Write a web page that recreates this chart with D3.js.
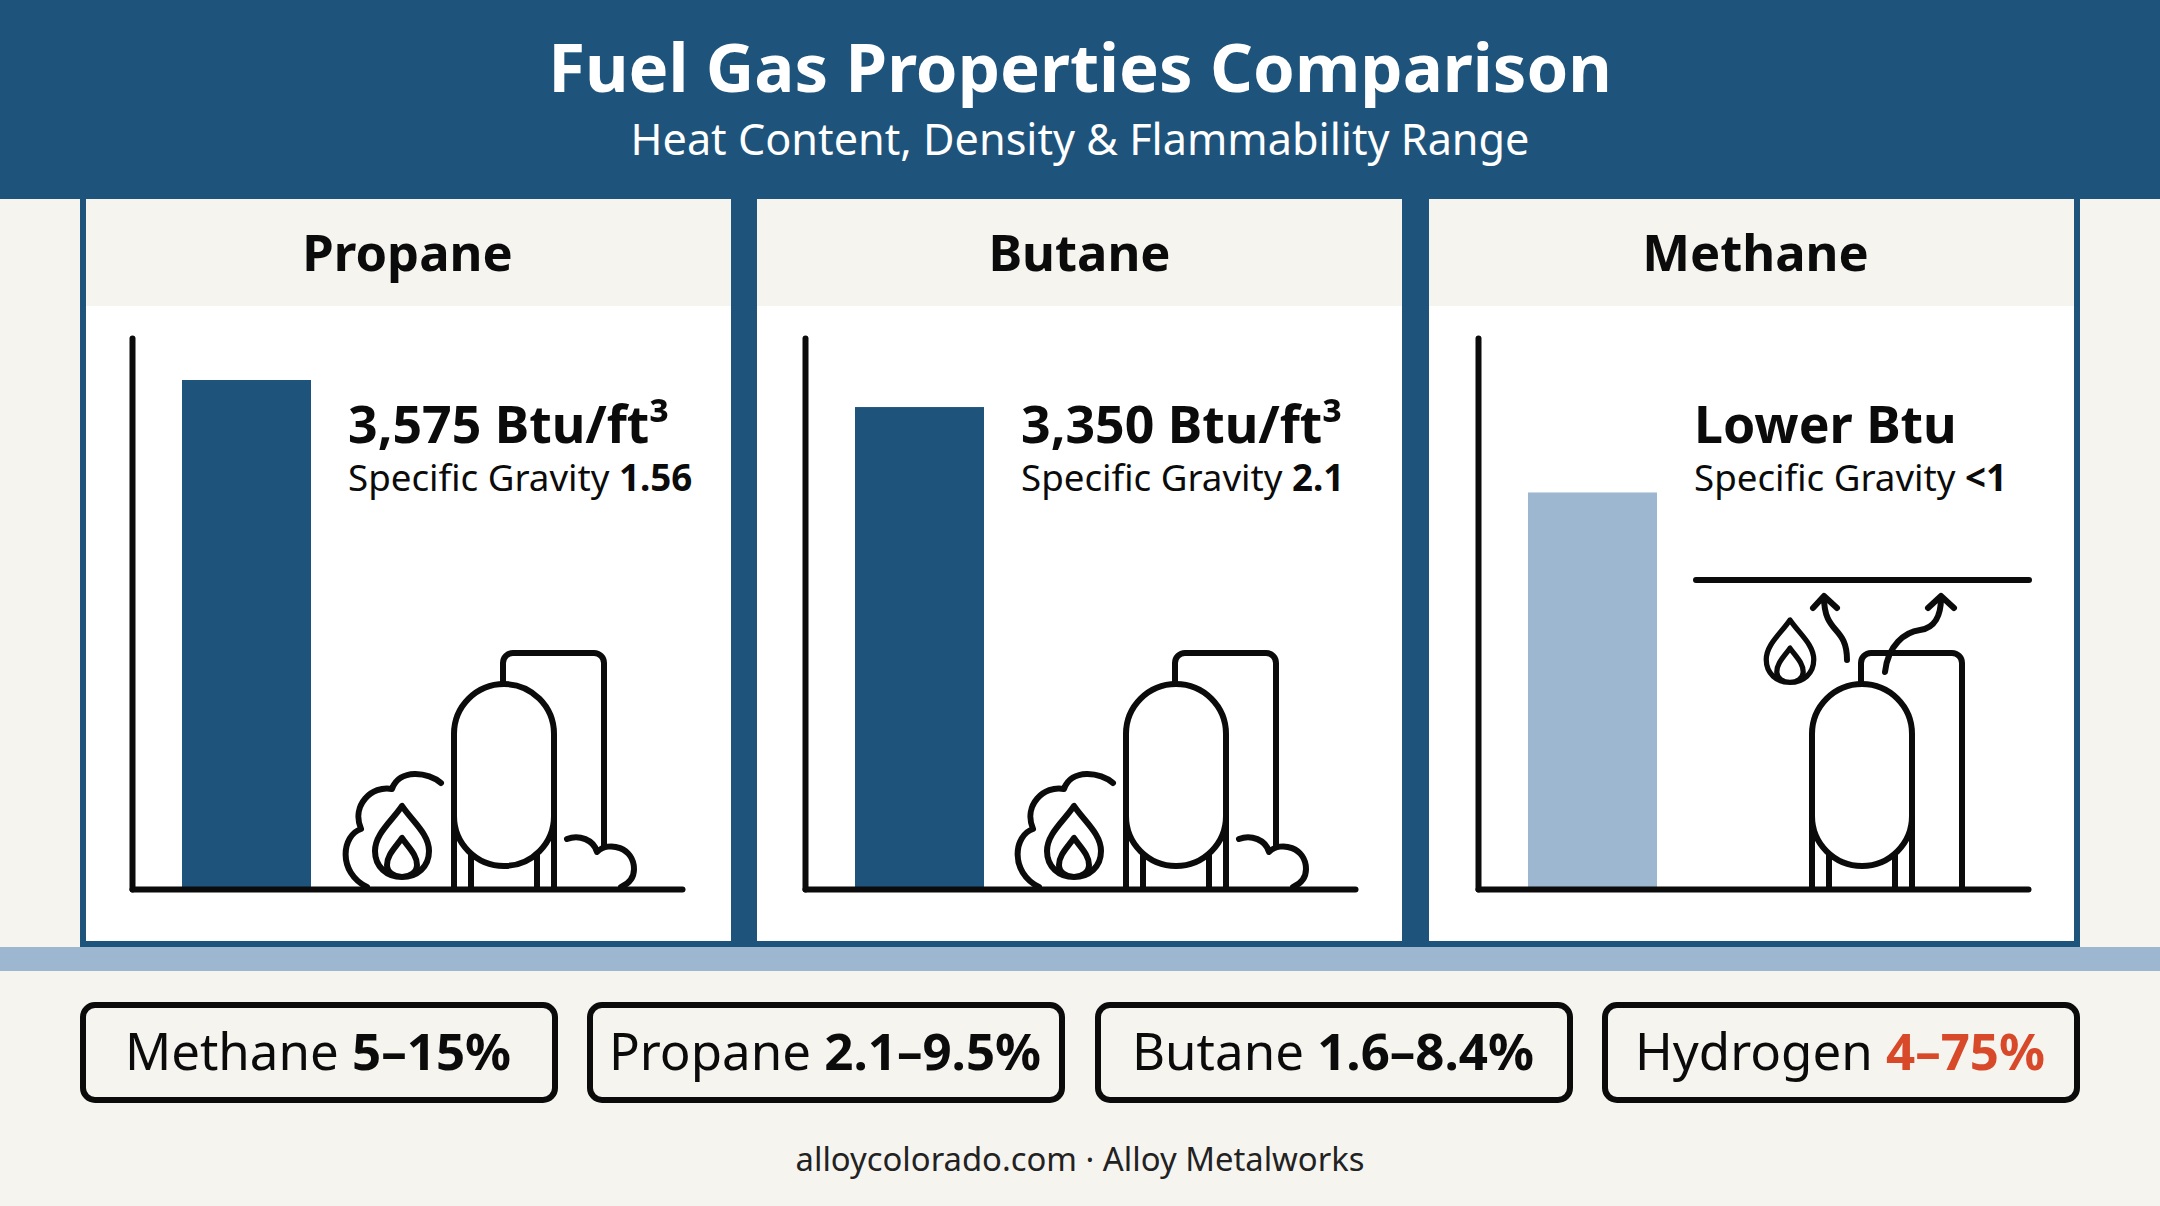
<!DOCTYPE html>
<html>
<head>
<meta charset="utf-8">
<script src="https://cdn.jsdelivr.net/npm/d3@7"></script>
<style>
  html, body { margin: 0; padding: 0; background: #f6f4ef; }
  svg { display: block; }
  text { font-family: "Noto Sans", sans-serif; fill: #0b0b0b; }
</style>
</head>
<body>
<script>
//data
var gasNames = ["Propane", "Butane", "Methane"];
var heatValues = [3575, 3385, 2785];   //bar heights as drawn, methane has no printed value
var heatLabels = ["3,575 Btu/ft³", "3,350 Btu/ft³", "Lower Btu"];
var gravityLabels = ["1.56", "2.1", "<1"];
var barColors = ["#1e537c", "#1e537c", "#9cb7cf"];
var rangeGases = ["Methane", "Propane", "Butane", "Hydrogen"];
var rangeLabels = ["5–15%", "2.1–9.5%", "1.6–8.4%", "4–75%"];
var rangeColors = ["#0b0b0b", "#0b0b0b", "#0b0b0b", "#d8492a"];

//SVG variables
var svgWidth = 2160;
var svgHeight = 1206;
var navy = "#1e537c";
var paper = "#f6f4ef";
var ink = "#0b0b0b";
var iconStroke = 6;

var svg = d3.select("body")
    .append("svg")
    .attr("width", svgWidth)
    .attr("height", svgHeight);

svg.append("rect").attr("width", svgWidth).attr("height", svgHeight).attr("fill", paper);

//header band
svg.append("rect").attr("width", svgWidth).attr("height", 199).attr("fill", navy);
svg.append("text")
    .attr("x", 1080).attr("y", 92)
    .attr("text-anchor", "middle")
    .style("font-size", "67px").style("font-weight", 700).style("fill", "#ffffff")
    .text("Fuel Gas Properties Comparison");
svg.append("text")
    .attr("x", 1080).attr("y", 155)
    .attr("text-anchor", "middle")
    .style("font-size", "43.2px").style("fill", "#ffffff")
    .text("Heat Content, Density & Flammability Range");

//panels sit on a navy block, light band under it
svg.append("rect").attr("x", 80).attr("y", 199).attr("width", 2000).attr("height", 748).attr("fill", navy);
svg.append("rect").attr("x", 0).attr("y", 947).attr("width", svgWidth).attr("height", 24).attr("fill", "#9cb7cf");

var panelLeft = [86, 757, 1429];
var chartShift = [0, 673, 1346];
var iconShift = [-1, 671, 1357];
var titleShift = [-1, 0, 4];
var panelWidth = 645;
var baseY = 889;
var topY = 338;

//same height scale for all three panels
var y = d3.scaleLinear().domain([0, 3870]).range([baseY, topY]);

function outline(sel) {
    return sel.attr("fill", "none").attr("stroke", ink).attr("stroke-width", iconStroke)
        .attr("stroke-linecap", "round").attr("stroke-linejoin", "round");
}

//one tank drawing, bottom of it stands on the baseline
function drawTank(g, boxToBase) {
    outline(g.append("path")).attr("d", "M504,686V663a10,10 0 0 1 10,-10H595a10,10 0 0 1 10,10V" + (boxToBase ? baseY : 846));
    outline(g.append("path")).attr("d", "M455,800V" + baseY + "M555,800V" + baseY + "M472,850V" + baseY + "M538,850V" + baseY);
    outline(g.append("rect"))
        .attr("x", 455).attr("y", 684).attr("width", 100).attr("height", 182)
        .attr("rx", 50).attr("ry", 50).attr("fill", "#ffffff");
}

function drawFlame(g, transform) {
    outline(g.append("path"))
        .attr("transform", transform)
        .attr("d", "M403,806C392,822 376,834 376,851C376,867 388,877 403,877C418,877 430,867 430,851C430,834 414,822 403,806Z"
            + "M403,838C396,848 388,855 388,865C388,872 395,877 403,877C411,877 418,872 418,865C418,855 410,848 403,838Z");
}

function drawClouds(g) {
    outline(g.append("path"))
        .attr("d", "M442,783C430,772 400,768 393,789C373,785 352,805 362,829C343,835 338,872 368,887"
            + "M568,839C580,834 595,840 598,852C610,840 635,848 635,869C635,878 629,884 622,887");
}

function drawVents(g) {
    outline(g.append("path"))
        .attr("d", "M1847,660C1847,625 1824,635 1824,597M1813,608L1824,596L1837,608"
            + "M1885,672C1888,645 1905,632 1920,630C1935,628 1941,615 1941,598M1928,608L1941,596L1954,608");
}

gasNames.forEach(function(gas, i) {
    var g = svg.append("g");
    var dx = chartShift[i];

    g.append("rect").attr("x", panelLeft[i]).attr("y", 199).attr("width", panelWidth).attr("height", 742).attr("fill", "#ffffff");
    g.append("rect").attr("x", panelLeft[i]).attr("y", 199).attr("width", panelWidth).attr("height", 107).attr("fill", paper);
    g.append("text")
        .attr("x", panelLeft[i] + panelWidth / 2 + titleShift[i]).attr("y", 271)
        .attr("text-anchor", "middle")
        .style("font-size", "50.7px").style("font-weight", 700)
        .text(gas);

    //bar
    var x = d3.scaleBand().domain([gas]).range([182 + dx, 311 + dx]);
    g.append("rect")
        .attr("x", x(gas)).attr("width", x.bandwidth())
        .attr("y", y(heatValues[i])).attr("height", baseY - y(heatValues[i]))
        .attr("fill", barColors[i]);

    //labels
    g.append("text")
        .attr("x", 348 + dx).attr("y", 443)
        .style("font-size", "51.8px").style("font-weight", 700)
        .text(heatLabels[i]);
    var sub = g.append("text")
        .attr("x", 348 + dx).attr("y", 491)
        .style("font-size", "36.7px");
    sub.append("tspan").text("Specific Gravity ");
    sub.append("tspan").style("font-weight", 700).text(gravityLabels[i]);

    //tank icons
    var icon = g.append("g").attr("transform", "translate(" + iconShift[i] + ",0)");
    if (i < 2) {
        drawClouds(icon);
        drawFlame(icon, null);
        drawTank(icon, false);
    } else {
        drawTank(icon, true);
    }
    if (i == 2) {
        //methane rises to the ceiling line
        outline(g.append("line"))
            .attr("x1", 1696).attr("x2", 2029).attr("y1", 580).attr("y2", 580);
        drawFlame(g, "translate(1790,620) scale(0.88) translate(-403,-806)");
        drawVents(g);
    }

    //axes last, they run over the bottom of the bars
    var yAxis = d3.axisLeft(y).tickValues([]).tickSizeOuter(0);
    var xLine = d3.scaleLinear().range([132 + dx, 682 + dx]);
    var xAxis = d3.axisBottom(xLine).tickValues([]).tickSizeOuter(0);
    g.append("g").attr("transform", "translate(" + (132 + dx) + ",0)").call(yAxis);
    g.append("g").attr("transform", "translate(0," + baseY + ")").call(xAxis);
    g.selectAll(".domain")
        .attr("stroke", ink).attr("stroke-width", iconStroke).attr("stroke-linecap", "round");
});

//flammability range pills
var pillLeft = [80, 587, 1095, 1602];
var pillWidth = 478;
rangeGases.forEach(function(gas, i) {
    svg.append("rect")
        .attr("x", pillLeft[i] + 3).attr("y", 1005)
        .attr("width", pillWidth - 6).attr("height", 95)
        .attr("rx", 12).attr("ry", 12)
        .attr("fill", paper).attr("stroke", ink).attr("stroke-width", 6);
    var t = svg.append("text")
        .attr("x", pillLeft[i] + pillWidth / 2 - 1).attr("y", 1070)
        .attr("text-anchor", "middle")
        .style("font-size", "51px");
    t.append("tspan").text(gas + " ");
    t.append("tspan").style("font-weight", 700).style("fill", rangeColors[i]).text(rangeLabels[i]);
});

//footer
svg.append("text")
    .attr("x", 1080).attr("y", 1171)
    .attr("text-anchor", "middle")
    .style("font-size", "32.8px").style("fill", "#222222")
    .text("alloycolorado.com · Alloy Metalworks");
</script>
</body>
</html>
